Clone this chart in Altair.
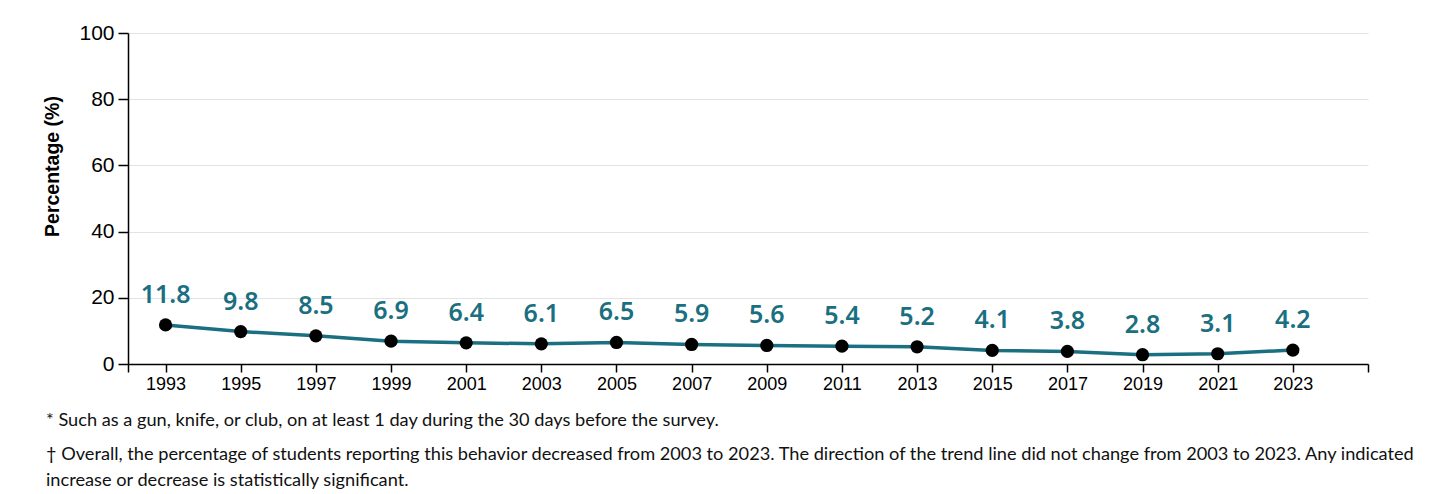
import altair as alt
import pandas as pd

years = [1993, 1995, 1997, 1999, 2001, 2003, 2005, 2007, 2009, 2011, 2013, 2015, 2017, 2019, 2021, 2023]
values = [11.8, 9.8, 8.5, 6.9, 6.4, 6.1, 6.5, 5.9, 5.6, 5.4, 5.2, 4.1, 3.8, 2.8, 3.1, 4.2]
labels = ["11.8", "9.8", "8.5", "6.9", "6.4", "6.1", "6.5", "5.9", "5.6", "5.4", "5.2", "4.1", "3.8", "2.8", "3.1", "4.2"]
y_ticks = [0, 20, 40, 60, 80, 100]
x_tick_values = [1992] + years + [2025]

note1 = "* Such as a gun, knife, or club, on at least 1 day during the 30 days before the survey."
note2 = ["\u2020 Overall, the percentage of students reporting this behavior decreased from 2003 to 2023. The direction of the trend line did not change from 2003 to 2023. Any indicated",
         "increase or decrease is statistically significant."]

df = pd.DataFrame({"year": years, "value": values, "label": labels})

teal = "#1a6f80"

x = alt.X("year:Q",
          scale=alt.Scale(domain=[1992, 2025], nice=False, zero=False),
          axis=alt.Axis(values=x_tick_values, title=None, grid=False,
                        labelExpr="datum.value == 1992 || datum.value == 2025 ? '' : toString(datum.value)",
                        labelFont="Liberation Sans", labelFontSize=18, labelColor="#000",
                        domainColor="#000", tickColor="#000", tickSize=8, labelPadding=3,
                        domainWidth=1.5, tickWidth=1.5))
y = alt.Y("value:Q",
          scale=alt.Scale(domain=[0, 100], nice=False),
          axis=alt.Axis(values=y_ticks, title="Percentage (%)", grid=True, gridColor="#e3e3e3",
                        labelFont="Liberation Sans", labelFontSize=21, labelColor="#000",
                        titleFont="Liberation Sans", titleFontSize=19.5, titleFontWeight="bold",
                        titleColor="#000", titlePadding=16, titleY=133,
                        domainColor="#000", tickColor="#000", tickSize=10, labelPadding=4,
                        domainWidth=1.5, tickWidth=1.5))

line = alt.Chart(df).mark_line(color=teal, strokeWidth=3.5).encode(x=x, y=y)
points = alt.Chart(df).mark_point(filled=True, color="#000", opacity=1, size=175).encode(x=x, y=y)
text = alt.Chart(df).mark_text(color=teal, font="Noto Sans", fontSize=25, fontWeight=600,
                               dy=-30, baseline="middle").encode(x=x, y=y, text="label:N")

chart = (line + points + text).properties(
    width=1240, height=331,
    autosize=alt.AutoSizeParams(type="none"),
    padding={"left": 120, "top": 25, "right": 60, "bottom": 134},
    title=alt.TitleParams(text=note1, subtitle=note2, orient="bottom", anchor="start",
                          frame="group", dx=-82, offset=19,
                          font="Lato", fontSize=18.2, fontWeight="normal", color="#111",
                          subtitleFont="Lato", subtitleFontSize=18.2, subtitleColor="#111",
                          subtitleLineHeight=26, subtitlePadding=16)
).configure_view(stroke=None)

chart.save("out.html", embed_options={"renderer": "svg", "actions": False})
